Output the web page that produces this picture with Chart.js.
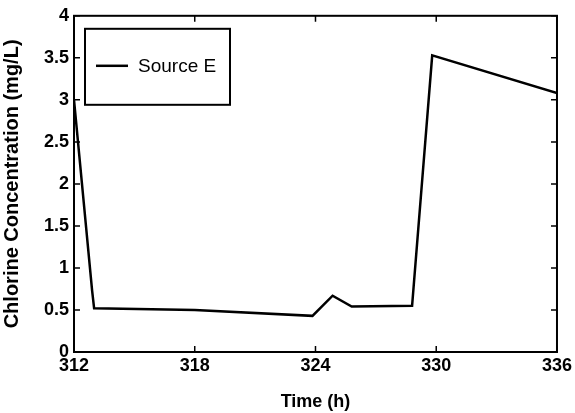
<!DOCTYPE html>
<html>
<head>
<meta charset="utf-8">
<script src="https://cdn.jsdelivr.net/npm/chart.js@4.4.1/dist/chart.umd.min.js"></script>
<style>
  html, body { margin: 0; padding: 0; background: #fff; }
  #wrap { width: 575px; height: 413px; }
</style>
</head>
<body>
<div id="wrap"><canvas id="chart" width="575" height="413"></canvas></div>
<script>
// Source E chlorine readings
const timeHours = [312, 312.9, 313, 318, 323.85, 324.85, 325.8, 328.8, 329.8, 336];
const chlorine  = [3.0, 0.73, 0.52, 0.5, 0.43, 0.67, 0.54, 0.55, 3.53, 3.08];
const xTicks = [312, 318, 324, 330, 336];
const yTicks = [0, 0.5, 1, 1.5, 2, 2.5, 3, 3.5, 4];
const seriesName = "Source E";

const FONT = "'Liberation Sans', Arial, sans-serif";

// matlab-style inward ticks on all four sides
const inwardTicks = {
  id: "inwardTicks",
  afterDraw(chart) {
    const { ctx, chartArea: a, scales } = chart;
    ctx.save();
    ctx.strokeStyle = "#000";
    ctx.lineWidth = 1.5;
    const len = 6;
    xTicks.forEach(v => {
      const px = scales.x.getPixelForValue(v);
      ctx.beginPath();
      ctx.moveTo(px, a.bottom); ctx.lineTo(px, a.bottom - len);
      ctx.moveTo(px, a.top); ctx.lineTo(px, a.top + len);
      ctx.stroke();
    });
    yTicks.forEach(v => {
      const py = scales.y.getPixelForValue(v);
      ctx.beginPath();
      ctx.moveTo(a.left, py); ctx.lineTo(a.left + len, py);
      ctx.moveTo(a.right, py); ctx.lineTo(a.right - len, py);
      ctx.stroke();
    });
    // box
    ctx.lineWidth = 2;
    ctx.strokeRect(a.left, a.top, a.right - a.left, a.bottom - a.top);
    ctx.restore();
  }
};

// legend box inside the upper-left corner
const boxLegend = {
  id: "boxLegend",
  afterDraw(chart) {
    const { ctx, chartArea: a } = chart;
    const x = a.left + 11, y = a.top + 13, w = 145, h = 76;
    ctx.save();
    ctx.fillStyle = "#fff";
    ctx.fillRect(x, y, w, h);
    ctx.strokeStyle = "#000";
    ctx.lineWidth = 2;
    ctx.strokeRect(x, y, w, h);
    ctx.beginPath();
    ctx.lineWidth = 2.5;
    ctx.moveTo(x + 11, y + 37); ctx.lineTo(x + 43, y + 37);
    ctx.stroke();
    ctx.fillStyle = "#000";
    ctx.font = "19px " + FONT;
    ctx.textBaseline = "middle";
    ctx.fillText(seriesName, x + 53, y + 38);
    ctx.restore();
  }
};

new Chart(document.getElementById("chart"), {
  type: "line",
  data: {
    datasets: [{
      label: seriesName,
      data: timeHours.map((t, i) => ({ x: t, y: chlorine[i] })),
      borderColor: "#000",
      borderWidth: 2.5,
      pointRadius: 0,
      tension: 0,
      fill: false
    }]
  },
  options: {
    responsive: false,
    animation: false,
    layout: { padding: { top: 12, right: 17, left: 0, bottom: 0 } },
    plugins: {
      legend: { display: false },
      tooltip: { enabled: false }
    },
    scales: {
      x: {
        type: "linear",
        min: 312,
        max: 336,
        afterBuildTicks: s => { s.ticks = xTicks.map(v => ({ value: v })); },
        afterFit: s => { s.height = 61; },
        grid: { display: false, drawTicks: false },
        border: { display: false },
        ticks: {
          color: "#000",
          padding: 3,
          maxRotation: 0,
          callback: v => String(v),
          font: { family: FONT, size: 18, weight: "bold" }
        },
        title: {
          display: true,
          text: "Time (h)",
          color: "#000",
          padding: { top: 4, bottom: 0 },
          font: { family: FONT, size: 18, weight: "bold" }
        }
      },
      y: {
        min: 0,
        max: 4,
        afterBuildTicks: s => { s.ticks = yTicks.map(v => ({ value: v })); },
        afterFit: s => { s.width = 74; },
        grid: { display: false, drawTicks: false },
        border: { display: false },
        ticks: {
          color: "#000",
          padding: 5,
          callback: v => String(v),
          font: { family: FONT, size: 18, weight: "bold" }
        },
        title: {
          display: true,
          text: "Chlorine Concentration (mg/L)",
          color: "#000",
          padding: { top: 0, bottom: 3 },
          font: { family: FONT, size: 20, weight: "bold" }
        }
      }
    }
  },
  plugins: [inwardTicks, boxLegend]
});
</script>
</body>
</html>
